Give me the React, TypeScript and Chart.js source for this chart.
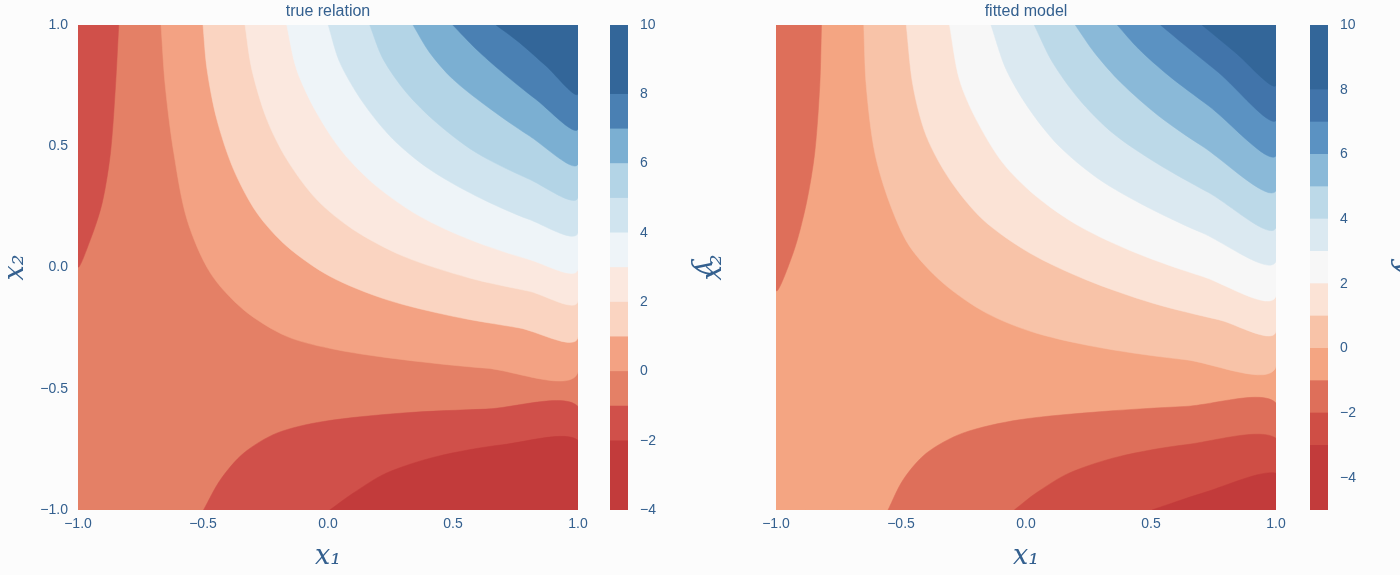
import { useEffect, useRef } from 'react';
import { Chart, registerables } from 'chart.js';

Chart.register(...registerables);

// colour bar levels and band colours
const trueLevels = [-4, -2, -1, 0, 1, 2, 3, 4, 5, 6, 7, 8, 10];
const trueColors = ['#c23b3b', '#d0504a', '#e48066', '#f3a283', '#fad4c1', '#fbe8df', '#eef4f8', '#d0e4ef', '#b3d4e6', '#7bafd2', '#4a80b3', '#336699'];
const fitLevels = [-5, -3, -2, -1, 0, 1, 2, 3, 4, 5, 6, 7, 8, 10];
const fitColors = ['#c23b3b', '#cf4e45', '#de6f5a', '#f4a582', '#f8c3a8', '#fbe3d6', '#f7f7f7', '#dbe9f1', '#bcd9e8', '#8ab9d8', '#5b92c2', '#4174aa', '#336699'];

// contour regions for "true relation": [band index, points (x1, x2)]
const trueFull: [number, number[][]] = [2, [[-1, -1], [1, -1], [1, 1], [-1, 1]]];
const trueLeftStrip: [number, number[][]] = [1, [[-0.837, 1], [-0.85, 0.749], [-0.87, 0.474], [-0.903, 0.267], [-0.95, 0.116], [-1, 0.006], [-1, 1]]];
const trueBottom: [number, number[][]] = [1, [[-0.498, -1], [-0.431, -0.876], [-0.338, -0.766], [-0.205, -0.683], [-0.019, -0.635], [0.3, -0.6], [0.632, -0.584], [1, -0.573], [1, -1]]];
const trueBottomDeep: [number, number[][]] = [0, [[0.007, -1], [0.1, -0.931], [0.233, -0.848], [0.433, -0.78], [0.698, -0.731], [1, -0.713], [1, -1]]];
const trueH1: [number, number[][]] = [3, [[-0.668, 1], [-0.651, 0.749], [-0.617, 0.474], [-0.564, 0.198], [-0.471, -0.022], [-0.338, -0.174], [-0.165, -0.284], [0.034, -0.339], [0.3, -0.38], [0.632, -0.415], [1, -0.431], [1, 1]]];
const trueH2: [number, number[][]] = [4, [[-0.5, 1], [-0.484, 0.818], [-0.445, 0.612], [-0.378, 0.405], [-0.285, 0.226], [-0.165, 0.088], [0.007, -0.036], [0.233, -0.132], [0.499, -0.201], [0.765, -0.249], [1, -0.288], [1, 1]]];
const trueH3: [number, number[][]] = [5, [[-0.332, 1], [-0.305, 0.818], [-0.245, 0.612], [-0.165, 0.446], [-0.046, 0.281], [0.1, 0.157], [0.3, 0.047], [0.565, -0.043], [0.805, -0.098], [1, -0.139], [1, 1]]];
const trueH4: [number, number[][]] = [6, [[-0.165, 1], [-0.126, 0.818], [-0.046, 0.639], [0.06, 0.474], [0.193, 0.336], [0.366, 0.212], [0.565, 0.116], [0.805, 0.033], [1, -0.008], [1, 1]]];
const trueH5: [number, number[][]] = [7, [[0.001, 1], [0.047, 0.846], [0.14, 0.68], [0.26, 0.529], [0.406, 0.405], [0.592, 0.295], [0.805, 0.198], [1, 0.143], [1, 1]]];
const trueH6: [number, number[][]] = [8, [[0.167, 1], [0.22, 0.86], [0.313, 0.722], [0.433, 0.598], [0.592, 0.474], [0.805, 0.364], [1, 0.288], [1, 1]]];
const trueH7: [number, number[][]] = [9, [[0.34, 1], [0.406, 0.887], [0.499, 0.777], [0.632, 0.667], [0.805, 0.543], [1, 0.426], [1, 1]]];
const trueH8: [number, number[][]] = [10, [[0.499, 1], [0.592, 0.901], [0.698, 0.804], [0.831, 0.694], [1, 0.57], [1, 1]]];
const trueH9: [number, number[][]] = [11, [[0.672, 1], [0.765, 0.928], [0.871, 0.832], [1, 0.715], [1, 1]]];

// contour regions for "fitted model"
const fitFull: [number, number[][]] = [3, [[-1, -1], [1, -1], [1, 1], [-1, 1]]];
const fitLeftStrip: [number, number[][]] = [2, [[-0.818, 1], [-0.825, 0.749], [-0.845, 0.474], [-0.878, 0.267], [-0.931, 0.061], [-1, -0.091], [-1, 1]]];
const fitBottom: [number, number[][]] = [2, [[-0.552, -1], [-0.492, -0.876], [-0.399, -0.766], [-0.253, -0.683], [-0.027, -0.628], [0.305, -0.594], [0.637, -0.573], [1, -0.559], [1, -1]]];
const fitBottomDeep: [number, number[][]] = [1, [[-0.047, -1], [0.039, -0.931], [0.172, -0.848], [0.371, -0.78], [0.637, -0.731], [1, -0.704], [1, -1]]];
const fitBottomDeepest: [number, number[][]] = [0, [[0.504, -1], [0.704, -0.931], [1, -0.848], [1, -1]]];
const fitH1: [number, number[][]] = [4, [[-0.649, 1], [-0.639, 0.749], [-0.605, 0.474], [-0.546, 0.267], [-0.466, 0.088], [-0.333, -0.063], [-0.16, -0.187], [0.039, -0.27], [0.305, -0.332], [0.637, -0.38], [1, -0.408], [1, 1]]];
const fitH2: [number, number[][]] = [5, [[-0.479, 1], [-0.452, 0.749], [-0.399, 0.543], [-0.306, 0.364], [-0.173, 0.198], [0.013, 0.061], [0.239, -0.05], [0.504, -0.146], [0.77, -0.215], [1, -0.263], [1, 1]]];
const fitH3: [number, number[][]] = [6, [[-0.306, 1], [-0.267, 0.777], [-0.2, 0.612], [-0.094, 0.433], [0.039, 0.295], [0.212, 0.171], [0.438, 0.061], [0.704, -0.036], [1, -0.118], [1, 1]]];
const fitH4: [number, number[][]] = [7, [[-0.14, 1], [-0.08, 0.818], [0.013, 0.653], [0.132, 0.501], [0.292, 0.364], [0.478, 0.253], [0.704, 0.143], [1, 0.026], [1, 1]]];
const fitH5: [number, number[][]] = [8, [[0.033, 1], [0.106, 0.846], [0.212, 0.694], [0.345, 0.556], [0.518, 0.433], [0.73, 0.309], [1, 0.164], [1, 1]]];
const fitH6: [number, number[][]] = [9, [[0.197, 1], [0.273, 0.887], [0.379, 0.763], [0.531, 0.625], [0.704, 0.501], [1, 0.316], [1, 1]]];
const fitH7: [number, number[][]] = [10, [[0.365, 1], [0.451, 0.901], [0.571, 0.791], [0.73, 0.667], [1, 0.46], [1, 1]]];
const fitH8: [number, number[][]] = [11, [[0.538, 1], [0.637, 0.915], [0.77, 0.804], [1, 0.605], [1, 1]]];
const fitH9: [number, number[][]] = [12, [[0.704, 1], [0.837, 0.887], [1, 0.749], [1, 1]]];

const trueRegions = [trueFull, trueLeftStrip, trueBottom, trueBottomDeep, trueH1, trueH2, trueH3, trueH4, trueH5, trueH6, trueH7, trueH8, trueH9];
const fitRegions = [fitFull, fitLeftStrip, fitBottom, fitBottomDeep, fitBottomDeepest, fitH1, fitH2, fitH3, fitH4, fitH5, fitH6, fitH7, fitH8, fitH9];

const axisTicks = [-1, -0.5, 0, 0.5, 1];
const TEXT = '#34608f';
const FONT = '"Liberation Sans", Arial, sans-serif';
const MATH = '"DejaVu Serif", serif';

const fmt = (v: number, digits: number) => {
  const s = Math.abs(v).toFixed(digits);
  return v < 0 ? '\u2212' + s : s;
};

function ContourPanel({ regions, colors, showYTicks }: { regions: [number, number[][]][]; colors: string[]; showYTicks: boolean }) {
  const canvasRef = useRef<HTMLCanvasElement>(null);
  useEffect(() => {
    const ctx = canvasRef.current?.getContext('2d');
    if (!ctx) return;
    const datasets = regions.map(([band, pts], i) => ({
      data: pts.map(([x, y]) => ({ x, y })),
      showLine: true,
      fill: 'shape',
      backgroundColor: colors[band],
      borderColor: colors[band],
      borderWidth: 0.5,
      pointRadius: 0,
      tension: 0.3,
      order: regions.length - i,
    }));
    const chart = new Chart(ctx, {
      type: 'scatter',
      data: { datasets: datasets as any },
      options: {
        animation: false,
        responsive: false,
        layout: { padding: { top: 25, right: 22, left: 0, bottom: 0 } },
        plugins: { legend: { display: false }, tooltip: { enabled: false } },
        scales: {
          x: {
            min: -1, max: 1,
            afterBuildTicks: (s: any) => { s.ticks = axisTicks.map((v) => ({ value: v })); },
            afterFit: (s: any) => { s.height = 65; },
            grid: { display: false, drawTicks: false },
            border: { display: false },
            ticks: { color: TEXT, font: { family: FONT, size: 14 }, padding: 6, maxRotation: 0, callback: (v: any) => fmt(Number(v), 1) },
            title: { display: true, text: 'x\u2081', color: TEXT, font: { family: MATH, size: 27, style: 'italic' }, padding: { top: 0, bottom: 2 } },
          },
          y: {
            min: -1, max: 1,
            afterBuildTicks: (s: any) => { s.ticks = axisTicks.map((v) => ({ value: v })); },
            afterFit: (s: any) => { s.width = 78; },
            grid: { display: false, drawTicks: false },
            border: { display: false },
            ticks: { display: showYTicks, color: TEXT, font: { family: FONT, size: 14 }, padding: 10, callback: (v: any) => fmt(Number(v), 1) },
            title: { display: true, text: 'x\u2082', color: TEXT, font: { family: MATH, size: 27, style: 'italic' }, padding: { top: 0, bottom: 0 } },
          },
        },
      },
    });
    return () => chart.destroy();
  }, [regions, colors, showYTicks]);
  return <canvas ref={canvasRef} width={600} height={575} />;
}

function ColorBar({ levels, colors }: { levels: number[]; colors: string[] }) {
  const canvasRef = useRef<HTMLCanvasElement>(null);
  useEffect(() => {
    const ctx = canvasRef.current?.getContext('2d');
    if (!ctx) return;
    const datasets = colors.map((c, i) => ({
      data: [[levels[i], levels[i + 1]]],
      backgroundColor: c,
      borderWidth: 0,
      barPercentage: 1,
      categoryPercentage: 1,
      grouped: false,
    }));
    const chart = new Chart(ctx, {
      type: 'bar',
      data: { labels: [''], datasets: datasets as any },
      options: {
        animation: false,
        responsive: false,
        layout: { padding: { top: 25, bottom: 65, left: 10, right: 0 } },
        plugins: { legend: { display: false }, tooltip: { enabled: false } },
        scales: {
          x: { display: false },
          y: {
            position: 'right',
            min: levels[0], max: levels[levels.length - 1],
            afterBuildTicks: (s: any) => { s.ticks = [-4, -2, 0, 2, 4, 6, 8, 10].map((v) => ({ value: v })); },
            afterFit: (s: any) => { s.width = 92; },
            grid: { display: false, drawTicks: false },
            border: { display: false },
            ticks: { color: TEXT, font: { family: FONT, size: 14 }, padding: 12, callback: (v: any) => fmt(Number(v), 0) },
            title: { display: true, text: 'y', color: TEXT, font: { family: MATH, size: 27, style: 'italic' }, padding: { top: 0, bottom: 10 } },
          },
        },
      },
    });
    return () => chart.destroy();
  }, [levels, colors]);
  return <canvas ref={canvasRef} width={120} height={575} />;
}

const titleStyle: any = { position: 'absolute', top: 2, color: TEXT, font: `16px ${FONT}`, width: 500, textAlign: 'center' };

export default function App() {
  useEffect(() => { document.body.style.margin = '0'; }, []);
  return (
    <div style={{ position: 'relative', width: 1400, height: 575, background: '#fcfcfc', overflow: 'hidden' }}>
      <div style={{ position: 'absolute', left: 0, top: 0 }}>
        <ContourPanel regions={trueRegions} colors={trueColors} showYTicks={true} />
      </div>
      <div style={{ position: 'absolute', left: 600, top: 0 }}>
        <ColorBar levels={trueLevels} colors={trueColors} />
      </div>
      <div style={{ position: 'absolute', left: 698, top: 0 }}>
        <ContourPanel regions={fitRegions} colors={fitColors} showYTicks={false} />
      </div>
      <div style={{ position: 'absolute', left: 1300, top: 0 }}>
        <ColorBar levels={fitLevels} colors={fitColors} />
      </div>
      <div style={{ ...titleStyle, left: 78 }}>true relation</div>
      <div style={{ ...titleStyle, left: 776 }}>fitted model</div>
    </div>
  );
}
